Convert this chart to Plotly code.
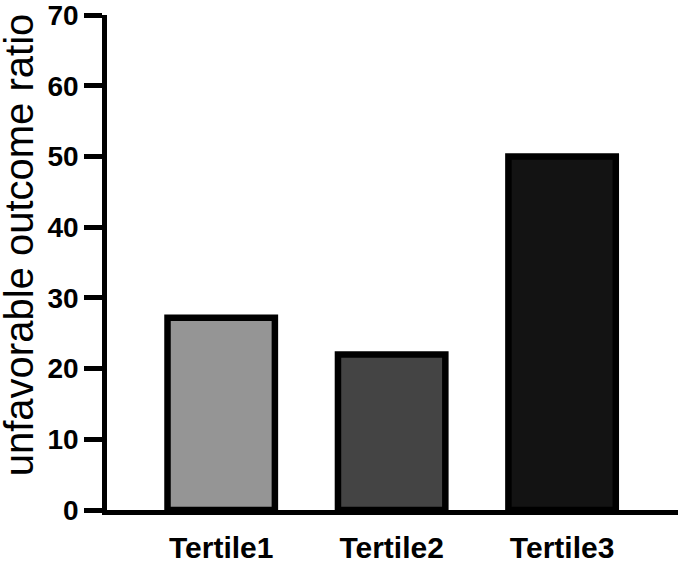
"""Bar chart: unfavorable outcome ratio by tertile."""

import plotly.graph_objects as go

categories = ["Tertile1", "Tertile2", "Tertile3"]
ratios = [27.2, 22.0, 50.0]
bar_colors = ["#959595", "#444444", "#131313"]
y_ticks = [0, 10, 20, 30, 40, 50, 60, 70]

_FONT = "Liberation Sans, Arial, sans-serif"

fig = go.Figure()
fig.add_bar(
    x=categories,
    y=ratios,
    width=0.63,
    marker=dict(color=bar_colors, line=dict(color="#000000", width=6.5)),
    showlegend=False,
)

fig.update_layout(
    width=680,
    height=564,
    paper_bgcolor="white",
    plot_bgcolor="white",
    margin=dict(l=107, r=2, t=15, b=54),
    font=dict(family=_FONT, color="#000000"),
    xaxis=dict(
        range=[-0.67, 2.68],
        automargin=False,
        showline=True,
        linecolor="#000000",
        linewidth=4.5,
        ticks="",
        showgrid=False,
        zeroline=False,
        tickfont=dict(size=30, family=_FONT, weight="bold"),
        ticklabelstandoff=7,
        ticklabeloverflow="allow",
    ),
    yaxis=dict(
        range=[0, 70],
        tickvals=y_ticks,
        automargin=False,
        showline=True,
        linecolor="#000000",
        linewidth=4.5,
        ticks="outside",
        ticklen=18,
        tickwidth=4.5,
        tickcolor="#000000",
        showgrid=False,
        zeroline=False,
        tickfont=dict(size=28, family=_FONT, weight="bold"),
        ticklabelstandoff=0,
        ticklabeloverflow="allow",
    ),
    annotations=[
        dict(
            text="unfavorable outcome ratio",
            textangle=-90,
            xref="paper",
            yref="paper",
            x=-0.154,
            y=0.535,
            xanchor="center",
            yanchor="middle",
            showarrow=False,
            font=dict(size=40, family=_FONT, color="#000000"),
        )
    ],
)

# drop the page margin so the 680x564 figure fills the window exactly
fig.write_html(
    "out.html",
    config={"displayModeBar": False},
    post_script="document.body.style.margin='0';document.body.style.overflow='hidden';",
)
